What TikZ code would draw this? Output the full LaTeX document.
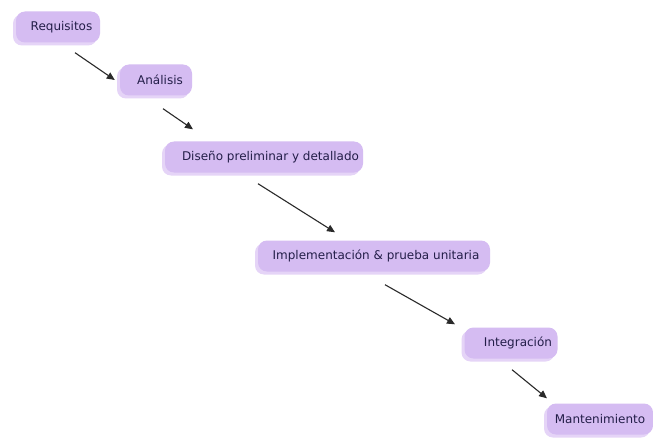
\documentclass[tikz,border=0pt]{standalone}
\usepackage{fontspec}
\setmainfont{DejaVu Sans}
\usetikzlibrary{arrows.meta,shadows}
\definecolor{boxfill}{HTML}{D5BCF2}
\definecolor{boxshade}{HTML}{E5D4F7}
\definecolor{boxtext}{HTML}{231E48}
\definecolor{arrowcol}{HTML}{2A2A2A}
\begin{document}
\begin{tikzpicture}[x=1pt,y=-1pt,
  phase/.style={rounded corners=9pt, fill=boxfill, draw=none,
    text=boxtext, font=\fontsize{12}{13}\selectfont, inner sep=0pt,
    minimum height=31pt,
    drop shadow={shadow xshift=-3pt, shadow yshift=-3pt, fill=boxshade, opacity=1}},
  flow/.style={draw=arrowcol, line width=1.1pt,
    -{Triangle[length=8pt,width=7pt]}}]
\useasboundingbox[fill=white] (0,0) rectangle (653,441);

% phase boxes; leading space nudges each label a little to the right
\node[phase, minimum width=84pt] (req) at (58,27) {\hspace*{7pt}Requisitos};
\node[phase, minimum width=72pt] (ana) at (156,80) {\hspace*{8pt}Análisis};
\node[phase, minimum width=198pt] (dis) at (264,157) {\hspace*{13pt}Diseño preliminar y detallado};
\node[phase, minimum width=232pt] (imp) at (374,256) {\hspace*{4pt}Implementación \& prueba unitaria};
\node[phase, minimum width=93pt] (int) at (511,343) {\hspace*{14pt}Integración};
\node[phase, minimum width=106pt] (man) at (600,419) {Mantenimiento};

% flow from one phase to the next
\draw[flow] ([shift={(17,10)}]req.south) -- ([shift={(-5,0)}]ana.west);
\draw[flow] ([shift={(7,13)}]ana.south) -- ([shift={(-71,-12)}]dis.north);
\draw[flow] ([shift={(-6,11)}]dis.south) -- ([shift={(-39,-8)}]imp.north);
\draw[flow] ([shift={(11,13)}]imp.south) -- ([shift={(-56,-3)}]int.north);
\draw[flow] ([shift={(1,11)}]int.south) -- ([shift={(-53,-5)}]man.north);
\end{tikzpicture}
\end{document}
